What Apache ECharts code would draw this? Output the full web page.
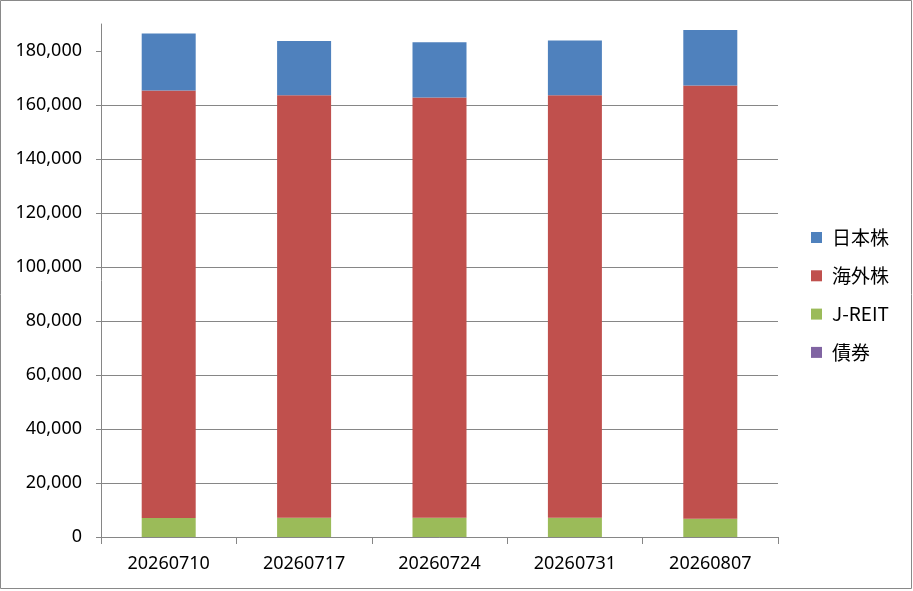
<!DOCTYPE html>
<html>
<head>
<meta charset="utf-8">
<script src="https://cdn.jsdelivr.net/npm/echarts@6/dist/echarts.min.js"></script>
<style>
html,body{margin:0;padding:0;background:#fff;}
#c{width:913px;height:591px;}
</style>
</head>
<body>
<div id="c"></div>
<script>
const categories = ['20260710','20260717','20260724','20260731','20260807'];
const bonds   = [0, 0, 0, 0, 0];                               // 債券
const jreit   = [7000, 7100, 7100, 7100, 6800];                // J-REIT
const foreign = [158400, 156500, 155700, 156500, 160400];      // 海外株
const japan   = [21100, 20100, 20400, 20300, 20600];           // 日本株
const yTicks  = [0,20000,40000,60000,80000,100000,120000,140000,160000,180000];

const chart = echarts.init(document.getElementById('c'), null, {renderer:'canvas'});
const labelFont = "'Noto Sans', 'Noto Sans CJK JP', sans-serif";
function bar(name, data, color){
  return {
    name: name, type: 'bar', stack: 'total', data: data,
    barWidth: 54,
    itemStyle: { color: color },
    emphasis: { disabled: true }
  };
}
chart.setOption({
  animation: false,
  graphic: [{
    type: 'rect', shape: { x: 0.5, y: 0.5, width: 911, height: 588 },
    style: { fill: 'none', stroke: '#898989', lineWidth: 1 }, silent: true
  }],
  grid: { left: 101, right: 135, top: 24, bottom: 54 },
  legend: {
    orient: 'vertical', left: 811, top: 227, padding: 0,
    data: ['日本株','海外株','J-REIT','債券'],
    icon: 'rect', itemWidth: 11, itemHeight: 11, itemGap: 17.3,
    textStyle: { fontFamily: "'Noto Sans CJK JP', sans-serif", fontSize: 19, color: '#000', lineHeight: 21, padding: [0,0,0,5] },
    selectedMode: false
  },
  xAxis: {
    type: 'category', data: categories,
    axisLine: { lineStyle: { color: '#868686' } },
    axisTick: { show: true, length: 7, lineStyle: { color: '#868686' } },
    axisLabel: { fontFamily: labelFont, fontSize: 18, color: '#000', margin: 18 }
  },
  yAxis: {
    type: 'value', min: 0, max: 190000, interval: 20000,
    axisLine: { show: true, lineStyle: { color: '#868686' } },
    axisTick: { show: true, length: 5, lineStyle: { color: '#868686' }, customValues: yTicks },
    axisLabel: {
      fontFamily: labelFont, fontSize: 18, color: '#000', margin: 19,
      customValues: yTicks,
      formatter: v => v.toLocaleString('en-US')
    },
    splitLine: { show: true, showMaxLine: false, lineStyle: { color: '#868686' } }
  },
  series: [
    bar('債券', bonds, '#8064A2'),
    bar('J-REIT', jreit, '#9BBB59'),
    bar('海外株', foreign, '#C0504D'),
    bar('日本株', japan, '#4F81BD')
  ]
});
</script>
</body>
</html>
